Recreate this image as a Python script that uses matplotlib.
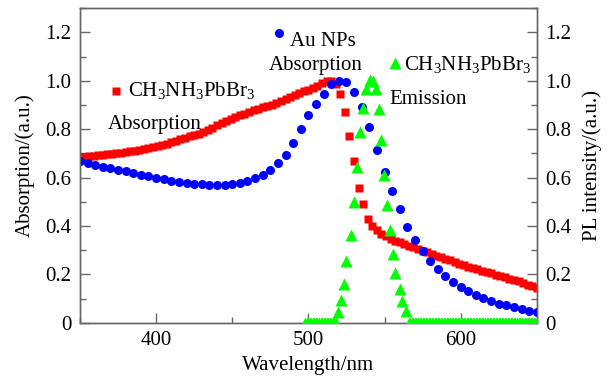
import numpy as np
import matplotlib
matplotlib.use('Agg')
import matplotlib.pyplot as plt
from matplotlib.ticker import MultipleLocator, FuncFormatter

plt.rcParams['font.family'] = ['Liberation Serif', 'DejaVu Serif']
plt.rcParams['mathtext.fontset'] = 'custom'
plt.rcParams['mathtext.rm'] = 'Liberation Serif'
plt.rcParams['mathtext.it'] = 'Liberation Serif:italic'

# CH3NH3PbBr3 absorption (red squares), 3 nm step
red_nm = np.arange(350, 651, 3)
red_abs = [0.684, 0.686, 0.688, 0.690, 0.692, 0.694, 0.697, 0.699, 0.701, 0.703,
           0.706, 0.709, 0.712, 0.715, 0.718, 0.722, 0.726, 0.730, 0.735, 0.740,
           0.746, 0.752, 0.758, 0.764, 0.770, 0.776, 0.782, 0.790, 0.798, 0.807,
           0.816, 0.825, 0.834, 0.843, 0.850, 0.857, 0.864, 0.871, 0.878, 0.884,
           0.890, 0.896, 0.902, 0.909, 0.916, 0.924, 0.932, 0.940, 0.948, 0.956,
           0.963, 0.970, 0.977, 0.990, 0.998, 1.000, 0.985, 0.945, 0.870, 0.772,
           0.668, 0.558, 0.490, 0.428, 0.400, 0.382, 0.367, 0.357, 0.348, 0.340,
           0.333, 0.325, 0.318, 0.312, 0.305, 0.298, 0.291, 0.284, 0.277, 0.271,
           0.265, 0.258, 0.251, 0.244, 0.238, 0.232, 0.226, 0.221, 0.215, 0.210,
           0.204, 0.198, 0.193, 0.188, 0.183, 0.177, 0.171, 0.165, 0.158, 0.151,
           0.145]

# Au NPs absorption (blue circles), 5 nm step
au_nm = np.arange(350, 651, 5)
au_abs = [0.667, 0.660, 0.652, 0.645, 0.638, 0.633, 0.626, 0.618, 0.612, 0.605,
          0.599, 0.593, 0.587, 0.582, 0.578, 0.575, 0.573, 0.571, 0.570, 0.571,
          0.573, 0.578, 0.586, 0.597, 0.612, 0.630, 0.660, 0.695, 0.745, 0.800,
          0.860, 0.905, 0.945, 0.985, 1.000, 0.995, 0.955, 0.890, 0.810, 0.715,
          0.625, 0.545, 0.470, 0.398, 0.343, 0.298, 0.255, 0.222, 0.192, 0.168,
          0.148, 0.130, 0.114, 0.101, 0.091, 0.080, 0.072, 0.065, 0.058, 0.051,
          0.045]

# CH3NH3PbBr3 emission (green triangles)
pl_left_nm = list(range(498, 519))
pl_peak_nm = [519.4, 521.6, 523.3, 524.9, 527.7, 529.9, 531.9, 533.6, 535.8, 538.0,
              540.2, 542.3, 544.5, 546.3, 547.8, 549.6, 551.7, 553.9, 555.4, 556.6,
              560.5, 561.6, 564.2]
pl_peak = [0.043, 0.095, 0.161, 0.254, 0.364, 0.498, 0.644, 0.787, 0.888, 0.967,
           1.005, 0.998, 0.967, 0.884, 0.754, 0.612, 0.488, 0.382, 0.285, 0.208,
           0.139, 0.092, 0.051]
pl_right_nm = list(range(566, 651))
pl_nm = pl_left_nm + pl_peak_nm + pl_right_nm
pl = [0.0] * len(pl_left_nm) + pl_peak + [0.0] * len(pl_right_nm)

red = '#ff0000'
blue = '#0000ff'
green = '#00ff00'
spine = '#666666'
fs = 15
ms_red, ms_blue, ms_green = 5.8, 6.5, 8.0

fig = plt.figure(figsize=(6.10, 3.89), dpi=100)
ax = fig.add_axes([0.131, 0.170, 0.749, 0.809])
ax2 = ax.twinx()

ax.plot(red_nm, red_abs, 's', color=red, ms=ms_red, mec='none', zorder=2)
ax.plot(au_nm, au_abs, 'o', color=blue, ms=ms_blue, mec='none', zorder=3)
ax2.plot(pl_nm, pl, '^', color=green, ms=ms_green, mec='none', zorder=4)

ax.set_xlim(350, 650)
ax.set_ylim(0, 1.3)
ax2.set_ylim(0, 1.3)

fmt = FuncFormatter(lambda v, p: '0' if abs(v) < 1e-9 else '%.1f' % v)
for a in (ax, ax2):
    a.yaxis.set_major_locator(MultipleLocator(0.2))
    a.yaxis.set_minor_locator(MultipleLocator(0.1))
    a.yaxis.set_major_formatter(fmt)
    for s in a.spines.values():
        s.set_color(spine)
        s.set_linewidth(1.0)
ax.xaxis.set_major_locator(MultipleLocator(100))
ax.xaxis.set_minor_locator(MultipleLocator(50))

ax.tick_params(axis='both', which='both', direction='in', colors=spine,
               labelcolor='black', labelsize=fs, top=False, right=False)
ax.tick_params(which='major', length=7, width=1, pad=6)
ax.tick_params(which='minor', length=4, width=1)
ax2.tick_params(axis='y', which='both', direction='in', colors=spine,
                labelcolor='black', labelsize=fs)
ax2.tick_params(which='major', length=7, width=1, pad=6)
ax2.tick_params(which='minor', length=4, width=1)

ax.set_xlabel('Wavelength/nm', fontsize=fs, labelpad=4)
ax.set_ylabel('Absorption/(a.u.)', fontsize=fs, labelpad=8)
ax2.set_ylabel('PL intensity/(a.u.)', fontsize=fs, labelpad=8)

# inline labels with markers
ax.plot([374], [0.957], 's', color=red, ms=ms_red, mec='none', clip_on=False)
ax.text(381.7, 0.936, 'CH$_3$NH$_3$PbBr$_3$', fontsize=fs)
ax.text(368.6, 0.801, 'Absorption', fontsize=fs)

ax.plot([481], [1.198], 'o', color=blue, ms=ms_blue, mec='none', clip_on=False)
ax.text(487.7, 1.143, 'Au NPs', fontsize=fs)
ax.text(474, 1.045, 'Absorption', fontsize=fs)

ax.plot([556.6], [1.074], '^', color=green, ms=ms_green, mec='none', clip_on=False)
ax.text(563.1, 1.045, 'CH$_3$NH$_3$PbBr$_3$', fontsize=fs)
ax.text(553.3, 0.906, 'Emission', fontsize=fs)

fig.savefig('out.png', dpi=100)
